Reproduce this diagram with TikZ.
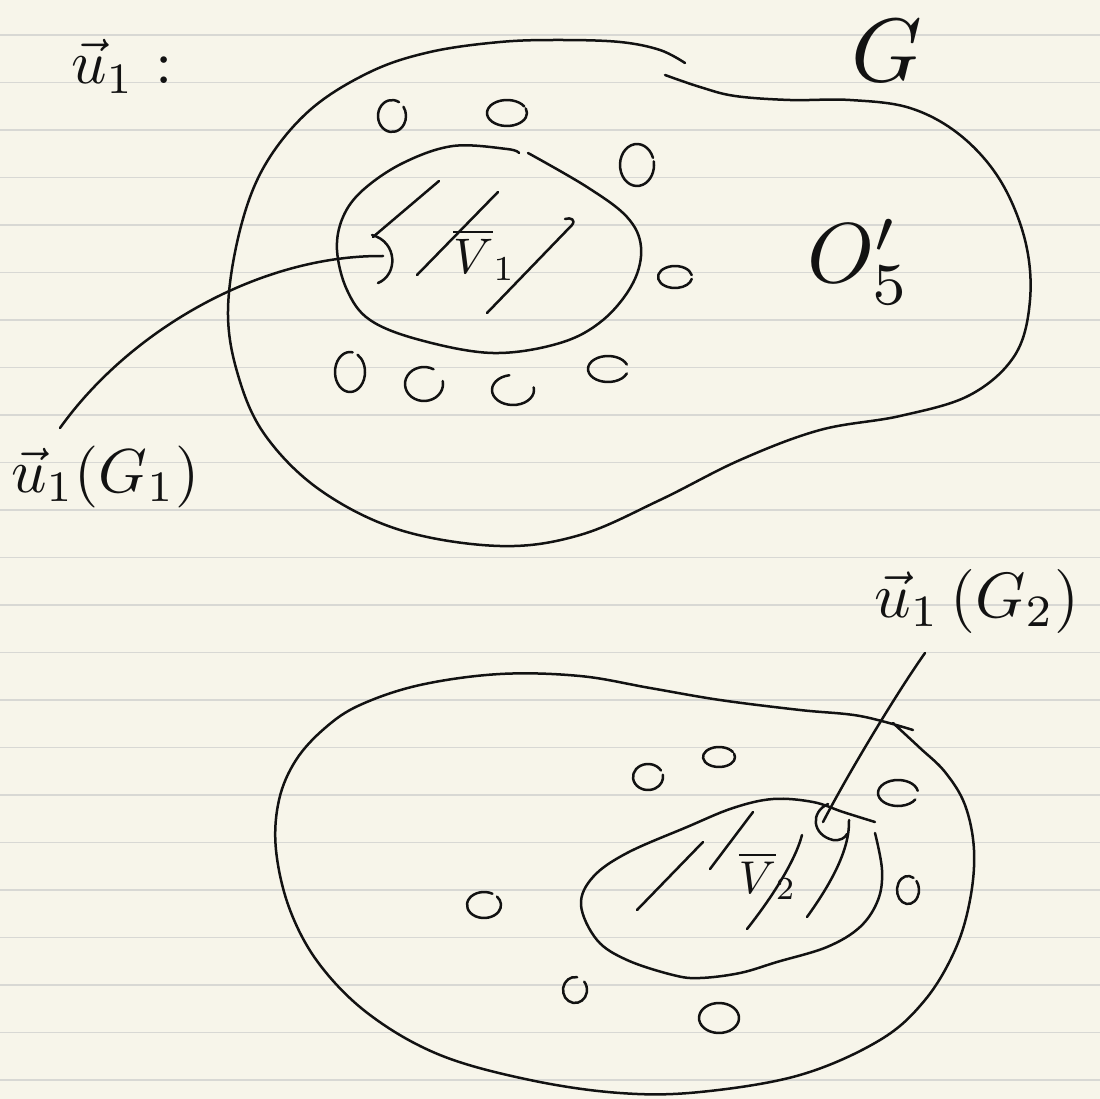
\documentclass[tikz,border=0pt]{standalone}
\definecolor{paper}{RGB}{247,245,234}
\definecolor{rulegray}{RGB}{216,216,212}
\definecolor{ink}{RGB}{18,18,18}
\tikzset{
  pen/.style={draw=ink,line width=2.5pt,line cap=round,line join=round},
  ruling/.style={draw=rulegray,line width=1.5pt},
  lbl/.style={text=ink,inner sep=0pt,anchor=base west},
}
\newcommand\ringmark[6]{\draw[pen] (#1,#2) ++(#5:#3pt and #4pt) arc[start angle=#5,end angle=#6,x radius=#3pt,y radius=#4pt];}
\begin{document}
\begin{tikzpicture}[x=1pt,y=-1pt]
\fill[paper] (0,0) rectangle (1100,1099);
\useasboundingbox (0,0) rectangle (1100,1099);
\foreach \k in {0,...,22} \draw[ruling] (0,{35+47.5*\k}) -- (1100,{35+47.5*\k});

% ---------- upper region G ----------
\draw[pen] plot[smooth,tension=0.6] coordinates {(685,63) (660,50) (620,42) (560,40) (500,42) (430,52) (370,72) (310,110) (265,165) (240,230) (228,310) (238,375) (265,435) (320,490) (400,530) (500,546) (580,535) (660,500) (740,460) (820,430) (900,416) (970,395) (1015,355) (1030,300) (1025,240) (1000,180) (960,135) (910,108) (850,100) (790,100) (735,96) (700,87) (665,75)};
% inner region
\draw[pen] plot[smooth,tension=0.6] coordinates {(519,153) (507,149) (453,146) (403,163) (363,190) (343,217) (337,250) (347,290) (370,320) (420,340) (493,353) (560,343) (603,320) (633,283) (641,247) (627,217) (587,187) (528,153)};
% hatching
\draw[pen] (372,235) .. controls (398,242) and (398,275) .. (378,283);
\draw[pen] (373,237) -- (439,181);
\draw[pen] (417,275) -- (498,192);
\draw[pen] (487,313) -- (572,225) .. controls (576,220) and (571,217) .. (565,219);
\node[lbl,scale=5] (v1) at (452,273) {$\overline{V}_1$};
% small points
\ringmark{392}{116}{14}{16}{60}{395}
\ringmark{507}{113}{20}{13}{30}{380}
\ringmark{637}{165}{17}{21}{20}{370}
\ringmark{675}{277}{17}{11}{10}{350}
\ringmark{350}{372}{15}{20}{80}{420}
\ringmark{424}{384}{19}{17}{60}{370}
\ringmark{513}{390}{21}{15}{100}{370}
\ringmark{608}{369}{20}{13}{20}{340}
% labels
\node[lbl,scale=6.2] (lab0) at (70,84) {$\vec u_1$ :};
\node[lbl,scale=9] (labG) at (850,82) {$G$};
\node[lbl,scale=8.5] (labO) at (806,283) {$O'_5$};
\node[lbl,scale=6.2] (lab1) at (10,492) {$\vec u_1(G_1)$};
% connector
\coordinate (p1) at (383,256);
\coordinate (q1) at (60,428);
\draw[pen] (p1) .. controls (260,255) and (130,330) .. (q1);

% ---------- lower region ----------
\draw[pen] plot[smooth,tension=0.6] coordinates {(893,723) (920,748) (945,772) (965,805) (974,850) (970,900) (955,950) (925,1000) (880,1040) (800,1075) (700,1092) (620,1093) (530,1080) (440,1055) (370,1015) (320,965) (290,910) (276,850) (279,800) (296,760) (325,728) (360,705) (420,685) (500,674) (580,676) (650,688) (720,700) (800,710) (860,716) (913,730)};
\draw[pen] plot[smooth,tension=0.6] coordinates {(875,833) (882,870) (878,900) (860,927) (827,947) (777,962) (740,973) (700,978) (673,975) (627,960) (597,940) (581,905) (593,877) (627,853) (687,827) (733,808) (773,799) (813,802) (843,812) (875,822)};
\draw[pen] (637,910) -- (703,842);
\draw[pen] (710,869) -- (753,812);
\draw[pen] (747,929) .. controls (770,900) and (795,862) .. (802,835);
\draw[pen] (807,917) .. controls (830,885) and (850,850) .. (849,820);
\draw[pen] (828,804) .. controls (810,812) and (812,835) .. (833,840) .. controls (840,841) and (845,838) .. (847,834);
\node[lbl,scale=4.6] (v2) at (738,893) {$\overline{V}_2$};
\ringmark{648}{777}{15}{13}{30}{370}
\ringmark{719}{757}{16}{10}{30}{380}
\ringmark{484}{905}{17}{13}{60}{400}
\ringmark{575}{990}{12}{13}{80}{400}
\ringmark{719}{1018}{20}{15}{20}{380}
\ringmark{898}{793}{20}{13}{10}{330}
\ringmark{908}{890}{11}{14}{60}{400}
\node[lbl,scale=6.4] (lab2) at (873,617) {$\vec u_1\,(G_2)$};
\coordinate (p2) at (925,653);
\coordinate (q2) at (823,822);
\draw[pen] (p2) .. controls (900,688) and (850,770) .. (q2);
\end{tikzpicture}
\end{document}
